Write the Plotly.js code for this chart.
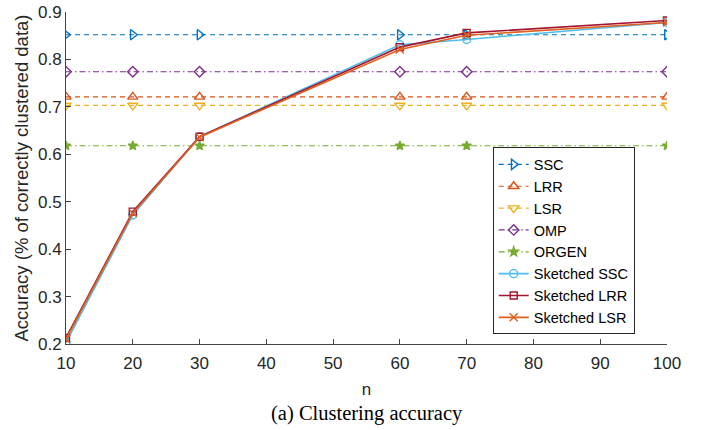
<!DOCTYPE html>
<html><head><meta charset="utf-8">
<script src="https://cdn.plot.ly/plotly-3.0.1.min.js"></script>
<style>html,body{margin:0;padding:0;background:#fff}#c{width:710px;height:430px}</style>
</head><body><div id="c"></div>
<script>
const nVals = [10, 20, 30, 60, 70, 100];
const ssc = [0.852, 0.852, 0.852, 0.852, 0.852, 0.852];
const lrr = [0.721, 0.721, 0.721, 0.721, 0.721, 0.721];
const lsr = [0.703, 0.703, 0.703, 0.703, 0.703, 0.703];
const omp = [0.774, 0.774, 0.774, 0.774, 0.774, 0.774];
const orgen = [0.618, 0.618, 0.618, 0.618, 0.618, 0.618];
const skSSC = [0.203, 0.472, 0.637, 0.831, 0.842, 0.878];
const skLRR = [0.213, 0.479, 0.637, 0.826, 0.856, 0.882];
const skLSR = [0.210, 0.476, 0.636, 0.821, 0.851, 0.878];
const names = ["SSC", "LRR", "LSR", "OMP", "ORGEN", "Sketched SSC", "Sketched LRR", "Sketched LSR"];
const xTicks = [10, 20, 30, 40, 50, 60, 70, 80, 90, 100];
const yTicks = [0.2, 0.3, 0.4, 0.5, 0.6, 0.7, 0.8, 0.9];
const yTickText = ["0.2", "0.3", "0.4", "0.5", "0.6", "0.7", "0.8", "0.9"];

const series = [ssc, lrr, lsr, omp, orgen, skSSC, skLRR, skLSR];
const colors = ["#0072BD", "#D95319", "#EDB120", "#7E2F8E", "#77AC30", "#4DBEEE", "#A2142F", "#E0601E"];
const dashes = ["5px,4px", "5px,4px", "5px,4px", "6px,3px,1.5px,3px", "6px,3px,1.5px,3px", "solid", "solid", "solid"];
const symbols = ["triangle-right-open", "triangle-up-open", "triangle-down-open", "diamond-open", "star", "circle-open", "square-open", "x-thin-open"];
const sizes = [9, 9, 9, 8, 7, 8, 7, 8];

const traces = series.map((y, i) => ({
  x: nVals, y: y, name: names[i], type: "scatter", mode: "lines+markers",
  line: {color: colors[i], width: i >= 5 ? 1.6 : 1.2, dash: dashes[i]},
  marker: {symbol: symbols[i], size: sizes[i], color: colors[i], line: {color: colors[i], width: 1.4}}
}));

const layout = {
  width: 710, height: 430,
  margin: {l: 66, r: 43, t: 12, b: 86},
  paper_bgcolor: "#fff", plot_bgcolor: "#fff",
  font: {family: "Liberation Sans, Arial, sans-serif", size: 18, color: "#262626"},
  xaxis: {
    range: [10, 100], tickvals: xTicks, automargin: false,
    ticks: "inside", ticklen: 5, tickcolor: "#444", showline: true, linecolor: "#444", linewidth: 1,
    showgrid: false, zeroline: false, mirror: false, tickfont: {size: 17}, ticklabelstandoff: 4,
    title: {text: "n", font: {size: 17}, standoff: 10}
  },
  yaxis: {
    range: [0.2, 0.9], tickvals: yTicks, ticktext: yTickText, automargin: false,
    ticks: "inside", ticklen: 5, tickcolor: "#444", showline: true, linecolor: "#444", linewidth: 1,
    showgrid: false, zeroline: false, tickfont: {size: 17},
    title: {text: "Accuracy (% of correctly clustered data)", font: {size: 18.5}, standoff: 4}
  },
  legend: {
    x: 0.71, y: 0.592, xanchor: "left", yanchor: "top",
    bordercolor: "#262626", borderwidth: 1, bgcolor: "#fff",
    font: {size: 14.5, color: "#000"}, tracegroupgap: 0, itemwidth: 30
  },
  showlegend: true,
  annotations: [{
    text: "(a) Clustering accuracy", xref: "paper", yref: "paper", x: 0.5, y: -0.21,
    xanchor: "center", yanchor: "middle", showarrow: false,
    font: {family: "Liberation Serif, Times New Roman, serif", size: 20.5, color: "#000"}
  }]
};

Plotly.newPlot("c", traces, layout, {displayModeBar: false, staticPlot: true});
</script>
</body></html>
